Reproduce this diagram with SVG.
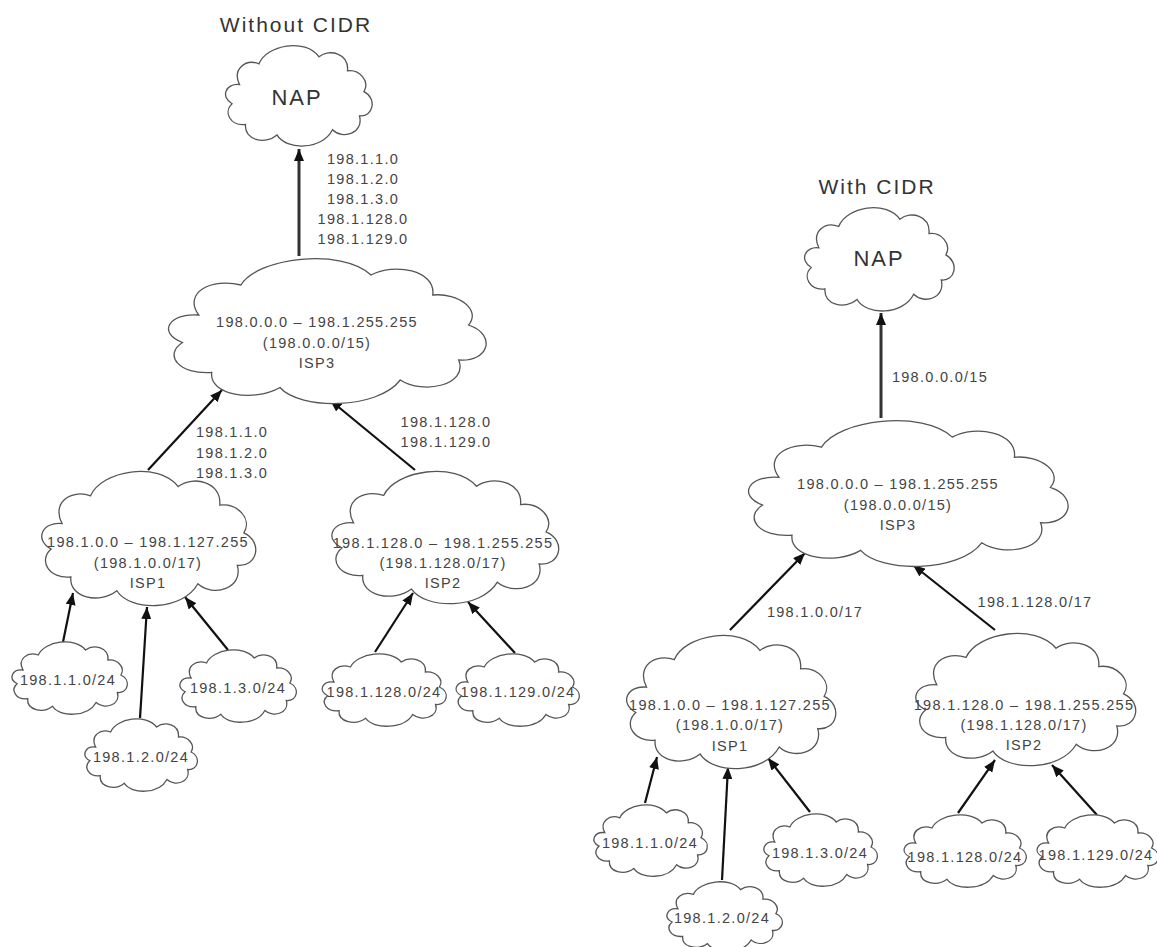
<svg xmlns="http://www.w3.org/2000/svg" xmlns:xlink="http://www.w3.org/1999/xlink" width="1157" height="947" viewBox="0 0 1157 947">
<style>
.cloud{fill:#fff;stroke:#555;stroke-width:1.3}
.t{font-family:"Liberation Sans",Arial,sans-serif;font-size:14.5px;letter-spacing:1.3px;fill:#444;text-anchor:middle}
.title{font-family:"Liberation Sans",Arial,sans-serif;font-size:21px;letter-spacing:2px;fill:#333;text-anchor:middle}
.nap{font-family:"Liberation Sans",Arial,sans-serif;font-size:22px;letter-spacing:2px;fill:#333;text-anchor:middle}
.c{stroke:#111;stroke-width:2.2;fill:none;marker-end:url(#ah)}
.cv{stroke:#333;stroke-width:3;fill:none;marker-end:url(#ah)}
</style>
<defs>
<path id="cloud" vector-effect="non-scaling-stroke" d="M22,48 C12,30 30,18 48,24 C58,2 110,-6 128,16 C142,6 168,12 166,32 C182,30 196,44 188,56 C206,64 200,86 182,84 C188,104 160,112 146,100 C132,124 84,124 72,106 C56,118 28,112 30,94 C10,96 0,80 12,70 C-4,62 4,46 22,48 Z"/>
<marker id="ah" markerUnits="userSpaceOnUse" markerWidth="13" markerHeight="10" refX="12" refY="5" orient="auto">
<path d="M0,0 L12,5 L0,10 Z" fill="#111"/>
</marker>
</defs>
<rect width="1157" height="947" fill="#fff"/>

<text class="title" x="296" y="32">Without CIDR</text>
<text class="title" x="877" y="194">With CIDR</text>

<g id="connectors">
<line class="cv" x1="299" y1="256" x2="299" y2="149"/>
<line class="c" x1="148" y1="470" x2="222" y2="390"/>
<line class="c" x1="415" y1="470" x2="330" y2="400"/>
<line class="c" x1="63" y1="642" x2="73" y2="593"/>
<line class="c" x1="140" y1="718" x2="147" y2="607"/>
<line class="c" x1="228" y1="650" x2="185" y2="597"/>
<line class="c" x1="375" y1="652" x2="413" y2="593"/>
<line class="c" x1="515" y1="653" x2="468" y2="602"/>

<line class="cv" x1="881" y1="418" x2="881" y2="313"/>
<line class="c" x1="730" y1="630" x2="805" y2="553"/>
<line class="c" x1="995" y1="630" x2="913" y2="565"/>
<line class="c" x1="645" y1="803" x2="657" y2="757"/>
<line class="c" x1="722" y1="880" x2="728" y2="767"/>
<line class="c" x1="810" y1="812" x2="768" y2="758"/>
<line class="c" x1="958" y1="813" x2="995" y2="760"/>
<line class="c" x1="1097" y1="815" x2="1052" y2="765"/>

<g id="edge-labels">
<text class="t" x="363" y="164">198.1.1.0</text>
<text class="t" x="363" y="184">198.1.2.0</text>
<text class="t" x="363" y="204">198.1.3.0</text>
<text class="t" x="363" y="224">198.1.128.0</text>
<text class="t" x="363" y="244">198.1.129.0</text>
<text class="t" x="232" y="437">198.1.1.0</text>
<text class="t" x="232" y="458">198.1.2.0</text>
<text class="t" x="232" y="478">198.1.3.0</text>
<text class="t" x="446" y="427">198.1.128.0</text>
<text class="t" x="446" y="447">198.1.129.0</text>
<text class="t" x="940" y="382">198.0.0.0/15</text>
<text class="t" x="815" y="617">198.1.0.0/17</text>
<text class="t" x="1035" y="607">198.1.128.0/17</text>
</g>
</g>

<g id="nap-left">
<use xlink:href="#cloud" class="cloud" transform="translate(223,43) scale(0.75,0.867)"/>
<text class="nap" x="297" y="105">NAP</text>
</g>
<g id="isp3-left">
<use xlink:href="#cloud" class="cloud" transform="translate(163,255) scale(1.625,1.25)"/>
<text class="t" x="317" y="327">198.0.0.0 – 198.1.255.255</text>
<text class="t" x="317" y="348">(198.0.0.0/15)</text>
<text class="t" x="317" y="368">ISP3</text>
</g>
<g id="isp1-left">
<use xlink:href="#cloud" class="cloud" transform="translate(38,468) scale(1.095,1.158)"/>
<text class="t" x="148" y="547">198.1.0.0 – 198.1.127.255</text>
<text class="t" x="148" y="568">(198.1.0.0/17)</text>
<text class="t" x="148" y="588">ISP1</text>
</g>
<g id="isp2-left">
<use xlink:href="#cloud" class="cloud" transform="translate(328,468) scale(1.16,1.142)"/>
<text class="t" x="443" y="548">198.1.128.0 – 198.1.255.255</text>
<text class="t" x="443" y="568">(198.1.128.0/17)</text>
<text class="t" x="443" y="588">ISP2</text>
</g>
<g id="net-l-1">
<use xlink:href="#cloud" class="cloud" transform="translate(10,640) scale(0.59,0.625)"/>
<text class="t" x="68" y="685">198.1.1.0/24</text>
</g>
<g id="net-l-2">
<use xlink:href="#cloud" class="cloud" transform="translate(83,717) scale(0.575,0.625)"/>
<text class="t" x="141" y="762">198.1.2.0/24</text>
</g>
<g id="net-l-3">
<use xlink:href="#cloud" class="cloud" transform="translate(178,648) scale(0.595,0.625)"/>
<text class="t" x="238" y="693">198.1.3.0/24</text>
</g>
<g id="net-l-128">
<use xlink:href="#cloud" class="cloud" transform="translate(320,652) scale(0.635,0.625)"/>
<text class="t" x="384" y="697">198.1.128.0/24</text>
</g>
<g id="net-l-129">
<use xlink:href="#cloud" class="cloud" transform="translate(454,652) scale(0.63,0.625)"/>
<text class="t" x="518" y="697">198.1.129.0/24</text>
</g>

<g id="nap-right">
<use xlink:href="#cloud" class="cloud" transform="translate(802,205) scale(0.765,0.892)"/>
<text class="nap" x="879" y="266">NAP</text>
</g>
<g id="isp3-right">
<use xlink:href="#cloud" class="cloud" transform="translate(743,417) scale(1.635,1.258)"/>
<text class="t" x="898" y="489">198.0.0.0 – 198.1.255.255</text>
<text class="t" x="898" y="510">(198.0.0.0/15)</text>
<text class="t" x="898" y="530">ISP3</text>
</g>
<g id="isp1-right">
<use xlink:href="#cloud" class="cloud" transform="translate(623,632) scale(1.07,1.15)"/>
<text class="t" x="730" y="710">198.1.0.0 – 198.1.127.255</text>
<text class="t" x="730" y="730">(198.1.0.0/17)</text>
<text class="t" x="730" y="751">ISP1</text>
</g>
<g id="isp2-right">
<use xlink:href="#cloud" class="cloud" transform="translate(912,630) scale(1.125,1.142)"/>
<text class="t" x="1024" y="710">198.1.128.0 – 198.1.255.255</text>
<text class="t" x="1024" y="730">(198.1.128.0/17)</text>
<text class="t" x="1024" y="750">ISP2</text>
</g>
<g id="net-r-1">
<use xlink:href="#cloud" class="cloud" transform="translate(592,803) scale(0.58,0.617)"/>
<text class="t" x="650" y="848">198.1.1.0/24</text>
</g>
<g id="net-r-2">
<use xlink:href="#cloud" class="cloud" transform="translate(665,880) scale(0.59,0.6)"/>
<text class="t" x="722" y="923">198.1.2.0/24</text>
</g>
<g id="net-r-3">
<use xlink:href="#cloud" class="cloud" transform="translate(762,812) scale(0.58,0.625)"/>
<text class="t" x="820" y="858">198.1.3.0/24</text>
</g>
<g id="net-r-128">
<use xlink:href="#cloud" class="cloud" transform="translate(902,813) scale(0.625,0.625)"/>
<text class="t" x="965" y="862">198.1.128.0/24</text>
</g>
<g id="net-r-129">
<use xlink:href="#cloud" class="cloud" transform="translate(1035,813) scale(0.62,0.625)"/>
<text class="t" x="1096" y="860">198.1.129.0/24</text>
</g>
</svg>
